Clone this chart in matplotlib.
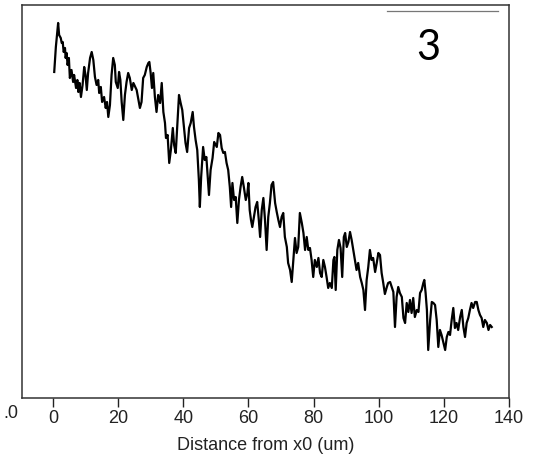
import matplotlib
matplotlib.use("Agg")
import matplotlib.pyplot as plt

# profile (x in um, y in arbitrary intensity units)
dist = [0.4, 0.9, 1.6, 1.9, 2.4, 2.7, 3.0, 3.3, 3.7, 3.9, 4.2, 4.5, 4.9, 5.2, 5.7, 6.2, 6.5, 7.1, 7.5, 7.8,
        8.2, 8.6, 9.1, 9.6, 10.0, 10.4, 10.8, 11.4, 11.9, 12.4, 12.9, 13.4, 13.9, 14.2, 14.7, 15.1, 15.7, 16.2,
        16.6, 17.0, 17.5, 18.0, 18.5, 19.0, 19.3, 19.9, 20.3, 20.7, 21.1, 21.6, 22.1, 22.6, 23.1, 23.6, 24.2,
        24.7, 25.7, 26.7, 27.2, 27.7, 28.2, 28.8, 29.3, 29.6, 30.0, 30.4, 30.8, 31.3, 31.8, 32.3, 32.9, 33.4,
        33.9, 34.4, 34.7, 35.2, 35.7, 36.2, 36.8, 37.2, 37.7, 38.2, 38.7, 39.2, 39.7, 40.2, 40.7, 41.2, 41.8,
        42.3, 42.9, 43.3, 43.8, 44.3, 44.8, 45.1, 45.5, 46.1, 46.6, 47.1, 47.6, 47.9, 48.4, 49.0, 49.5, 50.3,
        50.8, 51.3, 51.8, 52.3, 52.8, 53.3, 53.8, 54.3, 54.7, 55.1, 55.6, 56.1, 56.6, 57.1, 57.6, 58.1, 58.6,
        59.2, 59.7, 60.0, 60.4, 60.8, 61.2, 61.7, 62.2, 62.7, 63.2, 63.6, 64.1, 64.6, 65.1, 65.6, 66.1, 66.6,
        67.1, 67.6, 68.2, 68.7, 69.2, 69.7, 70.2, 70.7, 71.2, 71.8, 72.2, 72.8, 73.3, 73.8, 74.3, 74.8, 75.3,
        75.8, 76.4, 76.9, 77.4, 77.9, 78.4, 78.9, 79.4, 79.9, 80.4, 81.0, 81.5, 82.0, 82.5, 83.0, 83.5, 84.0,
        84.5, 85.0, 85.6, 86.1, 86.4, 86.8, 87.3, 87.8, 88.3, 88.8, 89.3, 89.7, 90.2, 90.7, 91.2, 91.7, 92.2,
        92.7, 93.2, 93.7, 94.3, 94.8, 95.3, 95.8, 96.3, 96.8, 97.3, 97.8, 98.3, 98.9, 99.4, 99.9, 100.4, 100.9,
        101.4, 101.9, 102.5, 102.9, 103.5, 104.0, 104.5, 105.0, 105.5, 106.0, 106.5, 107.1, 107.6, 108.1,
        108.6, 109.1, 109.6, 110.1, 110.6, 111.1, 111.7, 112.2, 112.7, 113.2, 113.7, 114.0, 114.4, 114.8,
        115.2, 115.8, 116.3, 116.8, 117.3, 117.8, 118.3, 118.8, 119.3, 119.8, 120.4, 120.9, 121.4, 121.9,
        122.4, 122.9, 123.4, 123.9, 124.4, 125.0, 125.5, 126.0, 126.5, 127.0, 127.5, 128.0, 128.5, 129.0,
        129.6, 130.1, 130.6, 131.1, 131.6, 132.1, 132.6, 133.2, 133.7, 134.2, 134.7]
intensity = [326, 351, 375, 363, 360, 355, 356, 346, 350, 340, 345, 333, 340, 320, 328, 316, 323, 310, 318, 306,
             315, 301, 313, 331, 323, 308, 325, 340, 346, 338, 321, 313, 318, 305, 311, 296, 301, 290,
             296, 281, 293, 323, 340, 333, 316, 310, 326, 318, 296, 278, 303, 316, 325, 320, 308,
             315, 308, 290, 296, 320, 323, 331, 335, 336, 325, 310, 325, 301, 286, 303, 295, 315,
             286, 275, 260, 263, 235, 248, 270, 253, 245, 275, 303, 295, 288, 271, 255, 246, 270,
             275, 286, 271, 258, 248, 218, 191, 221, 251, 238, 241, 218, 203, 228, 240, 256, 251,
             265, 263, 250, 245, 246, 235, 228, 211, 191, 215, 198, 201, 175, 198, 211, 221, 211,
             198, 205, 215, 188, 178, 171, 181, 191, 196, 178, 161, 188, 200, 178, 148, 181, 195,
             213, 216, 195, 186, 178, 171, 181, 185, 161, 151, 135, 128, 116, 138, 160, 145, 151,
             185, 175, 165, 148, 161, 148, 150, 138, 121, 138, 131, 140, 125, 121, 138, 131, 121,
             110, 115, 110, 138, 141, 108, 148, 158, 150, 121, 161, 165, 151, 156, 166, 158, 148,
             138, 128, 135, 121, 115, 108, 88, 118, 131, 148, 138, 140, 126, 135, 145, 143, 125,
             115, 104, 111, 115, 116, 111, 106, 71, 101, 111, 105, 101, 80, 75,
             95, 86, 98, 85, 100, 81, 88, 86, 105, 108, 115, 118, 105, 88,
             48, 78, 96, 95, 93, 78, 51, 68, 63, 56, 48, 61, 66, 63,
             78, 90, 70, 75, 68, 81, 88, 71, 61, 75, 80, 88, 95, 90,
             96, 96, 88, 83, 80, 71, 78, 75, 68, 73, 71]
xticks = [0, 20, 40, 60, 80, 100, 120, 140]

plt.rcParams['font.family'] = ['Liberation Sans', 'DejaVu Sans']

fig = plt.figure(figsize=(5.4, 4.61), dpi=100)
ax = fig.add_axes([0.0407, 0.1367, 0.9019, 0.8525])

ax.plot(dist, intensity, color='black', lw=1.6)

ax.set_xlim(-9.5, 140)
ax.set_ylim(0, 393)
ax.set_xticks(xticks)
ax.set_yticks([])
ax.tick_params(axis='x', direction='out', length=6.5, width=1, labelsize=13, pad=2, colors='#222222')
for s in ax.spines.values():
    s.set_linewidth(1.1)
    s.set_color('#333333')
ax.set_xlabel('Distance from x0 (um)', fontsize=13, labelpad=7, color='#222222')

# panel number and the short rule above it
ax.axhline(387, xmin=0.75, xmax=0.977, color='#777777', lw=0.9)
ax.text(0.834, 0.89, '3', transform=ax.transAxes, ha='center', va='center',
        fontsize=30, family=['Lato', 'DejaVu Sans'])

# leftover of a cut-off tick label at the left edge
fig.text(0.006, 1 - 413 / 461, '.0', ha='left', va='center', fontsize=13, color='#222222')

fig.savefig('out.png', dpi=100)
